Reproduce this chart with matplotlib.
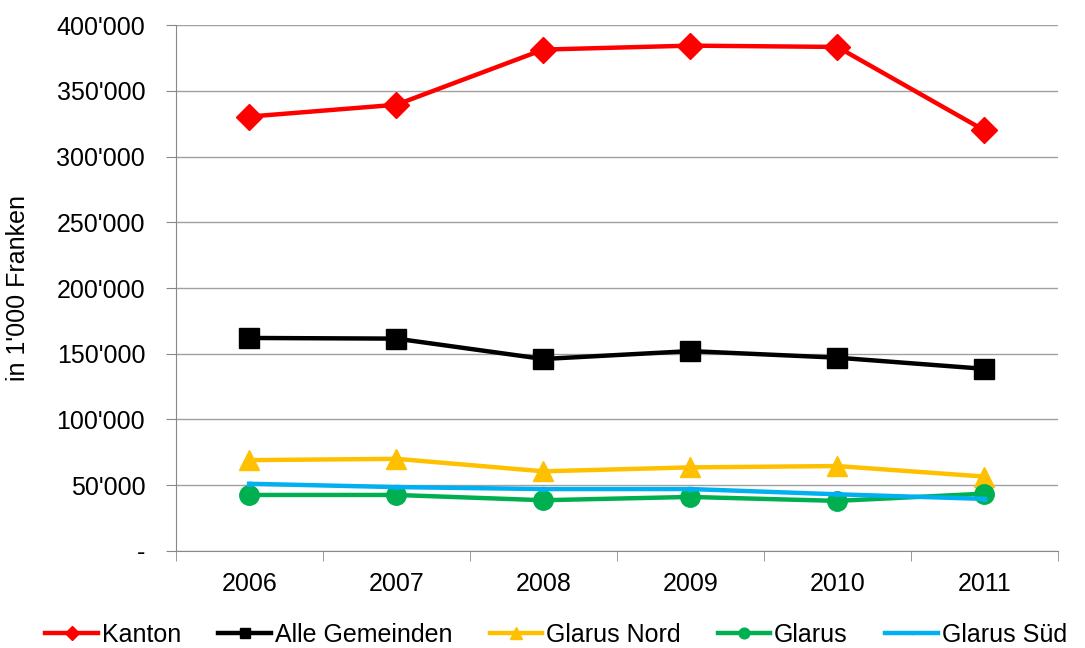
import numpy as np
import matplotlib.pyplot as plt
from matplotlib.ticker import FuncFormatter

plt.rcParams['font.family'] = ['Liberation Sans', 'DejaVu Sans']

years = ['2006', '2007', '2008', '2009', '2010', '2011']
kanton = [330500, 339500, 381500, 384500, 383500, 320000]
gemeinden = [162000, 161500, 146000, 152000, 147000, 138500]
glarus_nord = [69000, 70000, 60500, 63500, 64500, 56500]
glarus = [42500, 42500, 38500, 41000, 38000, 43500]
glarus_sued = [51000, 48500, 47000, 47000, 43000, 39500]

x = np.arange(len(years))

fig = plt.figure(figsize=(10.85, 6.48), dpi=100)
ax = fig.add_axes([0.162, 0.150, 0.813, 0.811])

ax.plot(x, kanton, color='#ff0000', lw=3.2, marker='D', ms=13, label='Kanton')
ax.plot(x, gemeinden, color='#000000', lw=3.2, marker='s', ms=14, label='Alle Gemeinden')
ax.plot(x, glarus_nord, color='#ffc000', lw=3.2, marker='^', ms=15, label='Glarus Nord')
ax.plot(x, glarus, color='#00b050', lw=3.2, marker='o', ms=14, label='Glarus')
ax.plot(x, glarus_sued, color='#00b0f0', lw=3.2, marker='s', ms=3, label='Glarus Süd')

ax.set_ylim(0, 400000)
ax.set_yticks(np.arange(0, 400001, 50000))
ax.yaxis.set_major_formatter(FuncFormatter(lambda v, p: '-' if v == 0 else f"{int(v):,}".replace(',', "'")))
ax.set_xlim(-0.5, 5.5)
ax.set_xticks(x)
ax.set_xticklabels(years)
ax.set_xticks(np.arange(-0.5, 5.6, 1), minor=True)
ax.tick_params(axis='x', which='major', length=0, pad=15, labelsize=18)
ax.tick_params(axis='x', which='minor', length=7, color='#888888')
ax.tick_params(axis='y', length=7, pad=15, color='#888888', labelsize=18)
ax.grid(axis='y', color='#a0a0a0', lw=1)
ax.set_axisbelow(True)
for s in ['top', 'right']:
    ax.spines[s].set_visible(False)
for s in ['left', 'bottom']:
    ax.spines[s].set_color('#888888')
ax.set_ylabel("in 1'000 Franken", fontsize=18, labelpad=12)
ax.yaxis.set_label_coords(-0.165, 0.5)

fig.legend(*ax.get_legend_handles_labels(), loc='center', bbox_to_anchor=(556 / 1085, 13 / 648),
           ncol=5, frameon=False, fontsize=18, handlelength=2.1, handletextpad=0.15,
           columnspacing=1.5, markerscale=0.55)

fig.savefig('out.png', dpi=100)
